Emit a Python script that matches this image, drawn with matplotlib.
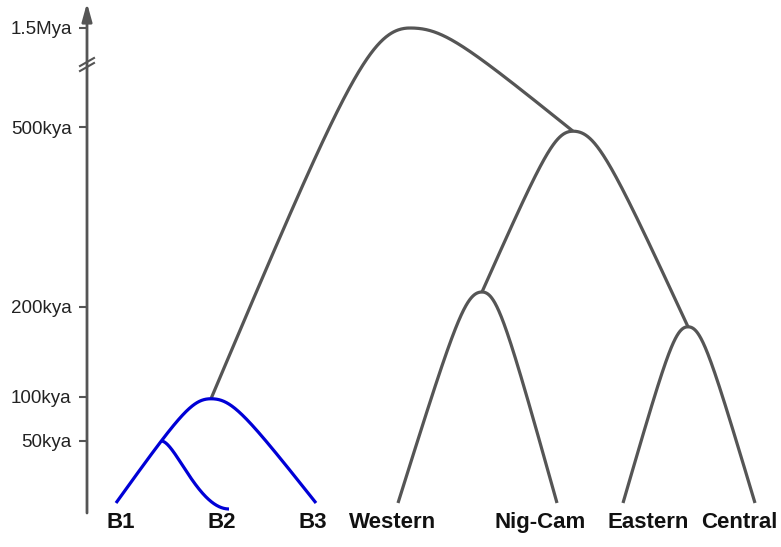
import numpy as np
import matplotlib.pyplot as plt

# time axis (kya) and where each tick sits on the drawing (px from top)
tick_times = [50, 100, 200, 500, 1500]
tick_labels = ["50kya", "100kya", "200kya", "500kya", "1.5Mya"]
scale_times = [0, 50, 100, 200, 500, 1500]
scale_pos = [503, 441, 397, 307, 127, 28]

# tips
tip_names = ["B1", "B2", "B3", "Western", "Nig-Cam", "Eastern", "Central"]
tip_x = [116, 229, 316, 398, 557, 623, 755]
label_x = [121, 222, 313, 393, 540, 648, 739]

# internal nodes: name -> (x, age in kya)
nodes = {
    "root": (410, 1500),
    "n500": (573, 493),
    "wn": (482, 225),
    "ec": (688, 178),
    "bon": (211, 98),
}
# branches (parent, child)
gray_edges = [("root", "bon"), ("root", "n500"), ("n500", "wn"), ("n500", "ec"),
              ("wn", "Western"), ("wn", "Nig-Cam"), ("ec", "Eastern"), ("ec", "Central")]
blue_edges = [("bon", "B1"), ("bon", "B3")]
b12_age = 50  # B1/B2 split, sits on the bon -> B1 branch

GRAY = "#555555"
BLUE = "#0000d6"


def ypos(age):
    return np.interp(age, scale_times, scale_pos)


def point(name):
    if name in nodes:
        x, age = nodes[name]
        return np.array([x, ypos(age)])
    return np.array([tip_x[tip_names.index(name)], ypos(0)])


def branch(p0, p3, flat_end=False):
    # rounded top at the parent, then an almost straight run to the child
    d = p3 - p0
    p1 = p0 + np.array([0.2 * d[0], 0])
    if flat_end:
        p2 = p3 - np.array([0.45 * d[0], 0])
    else:
        p2 = p0 + np.array([0.33 * d[0], 0.15 * d[1]])
    t = np.linspace(0, 1, 200)[:, None]
    return ((1 - t) ** 3 * p0 + 3 * (1 - t) ** 2 * t * p1
            + 3 * (1 - t) * t ** 2 * p2 + t ** 3 * p3)


fig = plt.figure(figsize=(7.81, 5.47), dpi=100)
ax = fig.add_axes([87 / 781, (547 - 513) / 547, (781 - 87) / 781, (513 - 4) / 547])
ax.set_xlim(87, 781)
ax.set_ylim(513, 4)

for a, b in gray_edges:
    c = branch(point(a), point(b))
    ax.plot(c[:, 0], c[:, 1], color=GRAY, lw=2.3, solid_capstyle="butt")

for a, b in blue_edges:
    c = branch(point(a), point(b))
    ax.plot(c[:, 0], c[:, 1], color=BLUE, lw=2.3, solid_capstyle="butt")
    if b == "B1":
        # B2 splits off the B1 lineage at b12_age
        yb = ypos(b12_age)
        xb = np.interp(yb, c[:, 1], c[:, 0])
        c2 = branch(np.array([xb, yb]), np.array([tip_x[1], ypos(0) + 6]), flat_end=True)
        ax.plot(c2[:, 0], c2[:, 1], color=BLUE, lw=2.3, solid_capstyle="butt")

for name, lx in zip(tip_names, label_x):
    ax.text(lx, 523, name, ha="center", va="center", fontsize=16,
            fontweight="bold", family="Liberation Sans", color="#111111")

# time axis with arrow head
for s in ax.spines.values():
    s.set_visible(False)
ax.set_xticks([])
ax.set_yticks(ypos(np.array(tick_times)))
ax.set_yticklabels(tick_labels, fontsize=13.5, family="Liberation Sans", color="#222222")
ax.tick_params(axis="y", direction="out", length=6, width=1.5, color=GRAY, pad=5)
ax.annotate("", xy=(87, 3), xytext=(87, 513),
            arrowprops=dict(arrowstyle="-|>,head_length=0.9,head_width=0.25",
                            color=GRAY, lw=2, shrinkA=0, shrinkB=0, mutation_scale=12),
            annotation_clip=False)

# axis break
for dy in (0, 5):
    ax.plot([80, 94], [71 + dy - 5, 63 + dy - 5], color=GRAY, lw=1.5, clip_on=False)

fig.savefig("out.png", dpi=100)
